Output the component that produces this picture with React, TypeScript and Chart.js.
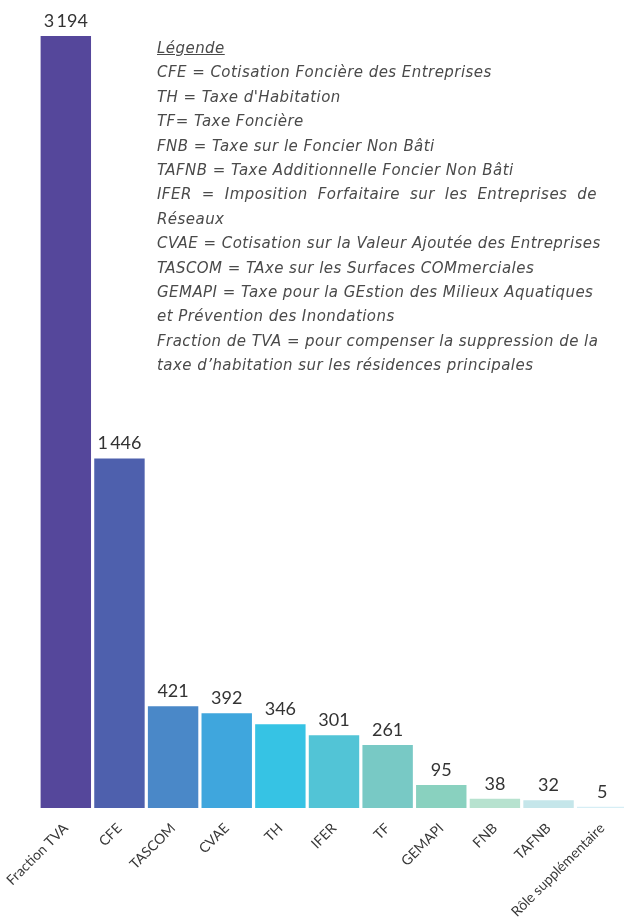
import React, { useEffect, useRef } from "react";
import { Chart, registerables } from "chart.js";

Chart.register(...registerables);

const categories = [
  "Fraction TVA",
  "CFE",
  "TASCOM",
  "CVAE",
  "TH",
  "IFER",
  "TF",
  "GEMAPI",
  "FNB",
  "TAFNB",
  "Rôle supplémentaire",
];

const values = [3194, 1446, 421, 392, 346, 301, 261, 95, 38, 32, 5];

const barColors = [
  "#55479b",
  "#4e60ad",
  "#4a88c8",
  "#3fa6dd",
  "#36c3e4",
  "#52c4d6",
  "#78c9c5",
  "#89d1bf",
  "#b7e2cf",
  "#c5e6ea",
  "#d6eef5",
];

const legendTitle = "Légende";
const legendLines = [
  "CFE = Cotisation Foncière des Entreprises",
  "TH = Taxe d'Habitation",
  "TF= Taxe Foncière",
  "FNB = Taxe sur le Foncier Non Bâti",
  "TAFNB = Taxe Additionnelle Foncier Non Bâti",
  "IFER = Imposition Forfaitaire sur les Entreprises de",
  "Réseaux",
  "CVAE = Cotisation sur la Valeur Ajoutée des Entreprises",
  "TASCOM = TAxe sur les Surfaces COMmerciales",
  "GEMAPI = Taxe pour la GEstion des Milieux Aquatiques",
  "et Prévention des Inondations",
  "Fraction de TVA = pour compenser la suppression de la",
  "taxe d’habitation sur les résidences principales",
];

const formatValue = (v: number) =>
  String(v).replace(/\B(?=(\d{3})+(?!\d))/g, "\u2009");

const valueLabelPlugin = {
  id: "valueLabels",
  afterDatasetsDraw(chart: any) {
    const { ctx } = chart;
    const meta = chart.getDatasetMeta(0);
    ctx.save();
    ctx.font = "18px Lato";
    ctx.fillStyle = "#333333";
    ctx.textAlign = "center";
    ctx.textBaseline = "alphabetic";
    meta.data.forEach((bar: any, i: number) => {
      ctx.fillText(formatValue(values[i]), bar.x, bar.y - 9);
    });
    ctx.restore();
  },
};

export default function App() {
  const canvasRef = useRef<HTMLCanvasElement>(null);

  useEffect(() => {
    if (!canvasRef.current) return;
    const chart = new Chart(canvasRef.current, {
      type: "bar",
      data: {
        labels: categories,
        datasets: [
          {
            data: values,
            backgroundColor: barColors,
            borderWidth: 0,
            barPercentage: 0.94,
            categoryPercentage: 1,
          },
        ],
      },
      options: {
        animation: false,
        responsive: false,
        devicePixelRatio: 1,
        layout: { padding: { top: 36, left: 0, right: 0, bottom: 0 } },
        plugins: {
          legend: { display: false },
          tooltip: { enabled: false },
        },
        scales: {
          x: {
            grid: { display: false },
            border: { display: false },
            ticks: {
              maxRotation: 45,
              minRotation: 45,
              autoSkip: false,
              color: "#383838",
              font: { family: "Lato", size: 14 },
              padding: 4,
            },
            afterFit(scale: any) {
              scale.height = 110;
              scale.paddingLeft = 39;
              scale.paddingRight = 1;
            },
          },
          y: {
            display: false,
            min: 0,
            max: Math.max(...values),
          },
        },
      },
      plugins: [valueLabelPlugin],
    });
    return () => chart.destroy();
  }, []);

  const lineH = 24.4;
  const textStyle: React.CSSProperties = {
    fontFamily: "'DejaVu Sans'",
    fontStyle: "italic",
    fontSize: 15,
    letterSpacing: "0.45px",
    color: "#4a4a4a",
    whiteSpace: "nowrap",
    height: lineH,
    lineHeight: `${lineH}px`,
  };

  return (
    <div
      style={{
        position: "absolute",
        left: 0,
        top: 0,
        width: 624,
        height: 918,
        overflow: "hidden",
        background: "#ffffff",
      }}
    >
      <canvas
        ref={canvasRef}
        width={630}
        height={918}
        style={{ position: "absolute", left: 0, top: 0 }}
      />
      <div style={{ position: "absolute", left: 157, top: 36 }}>
        <div style={{ ...textStyle, textDecoration: "underline" }}>{legendTitle}</div>
        {legendLines.map((line, i) => (
          <div
            key={i}
            style={
              i === 5
                ? {
                    ...textStyle,
                    width: 440,
                    whiteSpace: "normal",
                    textAlign: "justify",
                    textAlignLast: "justify",
                  }
                : textStyle
            }
          >
            {line}
          </div>
        ))}
      </div>
    </div>
  );
}
